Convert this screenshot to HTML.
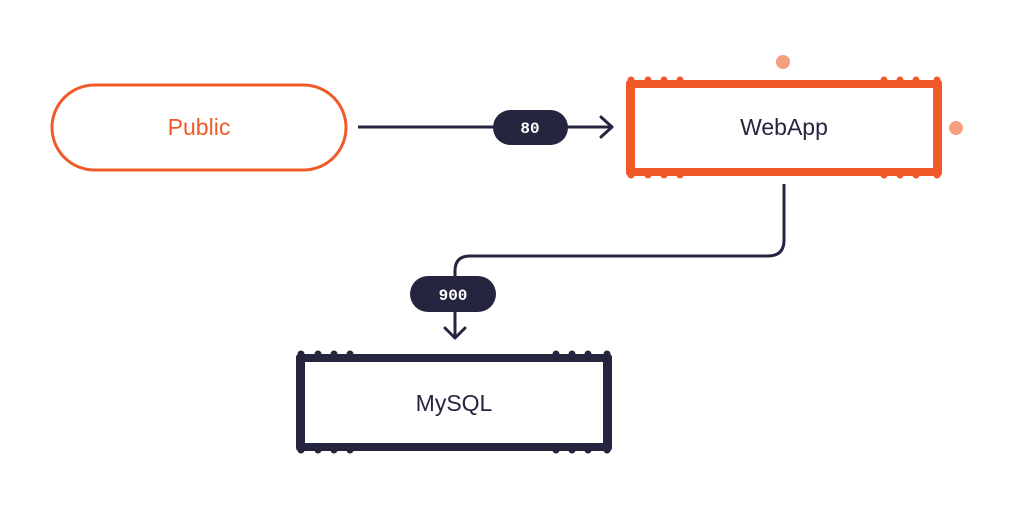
<!DOCTYPE html>
<html><head><meta charset="utf-8"><style>
html,body{margin:0;padding:0;background:#fff;}
svg{display:block;}
text{font-family:"Liberation Sans",sans-serif;}
text.mono{font-family:"Liberation Mono",monospace;}
</style></head><body>
<svg width="1015" height="514" viewBox="0 0 1015 514" xmlns="http://www.w3.org/2000/svg">
<rect width="1015" height="514" fill="#fff"/>
<!-- Public -->
<rect x="52" y="85" width="294" height="85" rx="42.5" fill="#fff" stroke="#ef5a28" stroke-width="3"/>
<text x="199" y="135" text-anchor="middle" font-size="23" fill="#ef5a28">Public</text>
<!-- arrow 80 -->
<line x1="358" y1="127" x2="611" y2="127" stroke="#252540" stroke-width="3"/>
<polyline points="601,117 612,127 601,137" fill="none" stroke="#252540" stroke-width="3" stroke-linecap="round" stroke-linejoin="round"/>
<rect x="493" y="110" width="75" height="35" rx="17.5" fill="#252540"/>
<text class="mono" x="530" y="133" text-anchor="middle" font-size="16" fill="#fff" font-weight="bold">80</text>
<!-- WebApp -->
<g fill="#ef5a28">
<rect x="626" y="80" width="316" height="96" rx="3"/>
<circle cx="631" cy="80" r="3.5"/><circle cx="648" cy="80" r="3.5"/><circle cx="664" cy="80" r="3.5"/><circle cx="680" cy="80" r="3.5"/>
<circle cx="884" cy="80" r="3.5"/><circle cx="900" cy="80" r="3.5"/><circle cx="916" cy="80" r="3.5"/><circle cx="937" cy="80" r="3.5"/>
<circle cx="631" cy="175" r="3.5"/><circle cx="648" cy="175" r="3.5"/><circle cx="664" cy="175" r="3.5"/><circle cx="680" cy="175" r="3.5"/>
<circle cx="884" cy="175" r="3.5"/><circle cx="900" cy="175" r="3.5"/><circle cx="916" cy="175" r="3.5"/><circle cx="937" cy="175" r="3.5"/>
</g>
<rect x="635" y="88" width="298" height="80" fill="#fff"/>
<text x="784" y="135" text-anchor="middle" font-size="23" fill="#252540">WebApp</text>
<circle cx="783" cy="62" r="7" fill="#f4a07f"/>
<circle cx="956" cy="128" r="7" fill="#f4a07f"/>
<!-- connector 900 -->
<path d="M784,184 V240 Q784,256 768,256 H470 Q455,256 455,271 V338" fill="none" stroke="#252540" stroke-width="3"/>
<polyline points="445,328 455,338 465,328" fill="none" stroke="#252540" stroke-width="3" stroke-linecap="round" stroke-linejoin="round"/>
<rect x="410" y="276" width="86" height="36" rx="18" fill="#252540"/>
<text class="mono" x="453" y="300" text-anchor="middle" font-size="16" fill="#fff" font-weight="bold">900</text>
<!-- MySQL -->
<g fill="#252540">
<rect x="296" y="354" width="316" height="97" rx="3"/>
<circle cx="301" cy="354" r="3.5"/><circle cx="318" cy="354" r="3.5"/><circle cx="334" cy="354" r="3.5"/><circle cx="350" cy="354" r="3.5"/>
<circle cx="556" cy="354" r="3.5"/><circle cx="572" cy="354" r="3.5"/><circle cx="588" cy="354" r="3.5"/><circle cx="607" cy="354" r="3.5"/>
<circle cx="301" cy="450" r="3.5"/><circle cx="318" cy="450" r="3.5"/><circle cx="334" cy="450" r="3.5"/><circle cx="350" cy="450" r="3.5"/>
<circle cx="556" cy="450" r="3.5"/><circle cx="572" cy="450" r="3.5"/><circle cx="588" cy="450" r="3.5"/><circle cx="607" cy="450" r="3.5"/>
</g>
<rect x="305" y="362" width="298" height="81" fill="#fff"/>
<text x="454" y="411" text-anchor="middle" font-size="23" fill="#252540">MySQL</text>
</svg>
</body></html>
